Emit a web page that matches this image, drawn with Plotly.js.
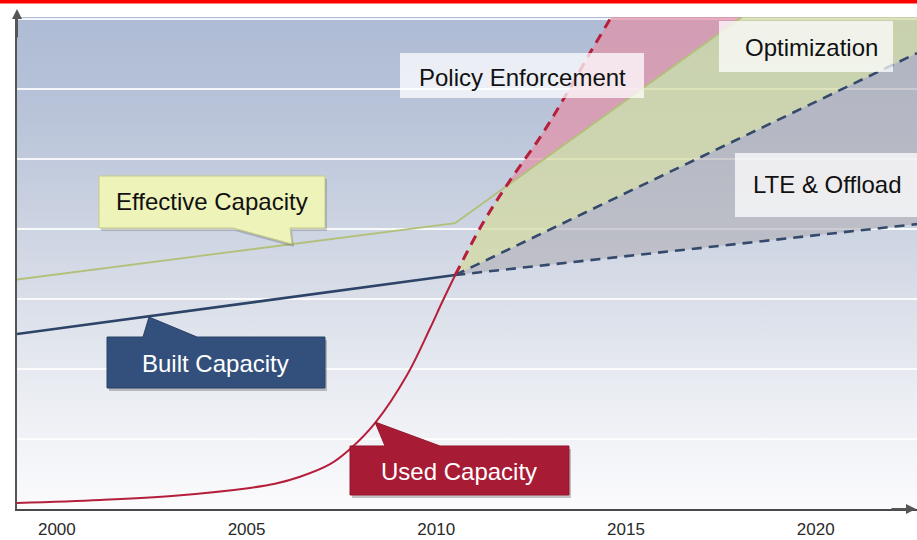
<!DOCTYPE html>
<html><head><meta charset="utf-8">
<script src="https://cdn.plot.ly/plotly-3.0.1.min.js"></script>
<style>html,body{margin:0;padding:0;background:#fff}#chart{width:917px;height:540px}</style>
</head><body><div id="chart"></div>
<script>
// ---- data (x = year, y = capacity, arbitrary units) ----
const usedYears   = [1998.95, 2001.14, 2003.11, 2005.09, 2005.75, 2006.41, 2007.20, 2007.73, 2008.39, 2009.23, 2009.84, 2010.15, 2010.50];
const usedValues  = [0.086, 0.129, 0.190, 0.301, 0.360, 0.460, 0.640, 0.857, 1.229, 1.914, 2.586, 2.950, 3.343];
const demandYears  = [2010.50, 2011.23, 2011.95, 2012.74, 2013.34, 2014.05, 2014.63];
const demandValues = [3.343, 4.086, 4.700, 5.314, 5.843, 6.514, 7.043];
const effectiveYears  = [1998.95, 2010.50, 2018.09];
const effectiveValues = [3.279, 4.086, 7.043];
const builtYears  = [1998.95, 2010.50];
const builtValues = [2.50, 3.343];
const lteHighYears  = [2010.50, 2022.67];
const lteHighValues = [3.343, 6.514];
const lteLowYears   = [2010.50, 2022.67];
const lteLowValues  = [3.343, 4.071];
const tickYears  = [2000, 2005, 2010, 2015, 2020];
const tickLabels = ['2000', '2005', '2010', '2015', '2020'];
const xRange = [1998.95, 2022.67];
const yRange = [0, 7.03];

// ---- helpers ----
function intersect(ax, ay, bx, by) {
  for (let i = 0; i < ax.length - 1; i++) {
    for (let j = 0; j < bx.length - 1; j++) {
      const x1 = ax[i], y1 = ay[i], x2 = ax[i+1], y2 = ay[i+1];
      const x3 = bx[j], y3 = by[j], x4 = bx[j+1], y4 = by[j+1];
      const d = (x1-x2)*(y3-y4) - (y1-y2)*(x3-x4);
      if (Math.abs(d) < 1e-12) continue;
      const t = ((x1-x3)*(y3-y4) - (y1-y3)*(x3-x4)) / d;
      const u = -((x1-x2)*(y1-y3) - (y1-y2)*(x1-x3)) / d;
      if (t > 1e-6 && t <= 1 && u >= 0 && u <= 1) return [x1 + t*(x2-x1), y1 + t*(y2-y1)];
    }
  }
  return null;
}
const I = intersect(demandYears, demandValues, effectiveYears, effectiveValues);
const nE = effectiveYears.length - 1;

// pink: between demand (left) and effective (right) above their crossing
const pinkX = [I[0]], pinkY = [I[1]];
demandYears.forEach((x, k) => { if (x > I[0]) { pinkX.push(x); pinkY.push(demandValues[k]); } });
for (let k = nE; k >= 0; k--) if (effectiveYears[k] > I[0]) { pinkX.push(effectiveYears[k]); pinkY.push(effectiveValues[k]); }

// green: between upper LTE line and min(demand, effective)
const optX = [...lteHighYears], optY = [...lteHighValues];
optX.push(lteHighYears[lteHighYears.length-1]); optY.push(effectiveValues[nE]);
for (let k = nE; k >= 0; k--) if (effectiveYears[k] > I[0]) { optX.push(effectiveYears[k]); optY.push(effectiveValues[k]); }
optX.push(I[0]); optY.push(I[1]);
for (let k = demandYears.length - 1; k >= 0; k--) if (demandYears[k] < I[0]) { optX.push(demandYears[k]); optY.push(demandValues[k]); }

// gray: between the two LTE lines
const lteX = [...lteHighYears, ...lteLowYears.slice().reverse()];
const lteY = [...lteHighValues, ...lteLowValues.slice().reverse()];

const FONT = 'Liberation Sans, Arial, sans-serif';
const traces = [
  {x: lteX, y: lteY, mode: 'none', fill: 'toself', fillcolor: 'rgba(178,176,182,0.62)', type: 'scatter'},
  {x: optX, y: optY, mode: 'none', fill: 'toself', fillcolor: 'rgba(210,218,160,0.72)', type: 'scatter'},
  {x: pinkX, y: pinkY, mode: 'none', fill: 'toself', fillcolor: 'rgba(226,144,166,0.7)', type: 'scatter'},
  {x: effectiveYears, y: effectiveValues, mode: 'lines', line: {color: '#b3c07a', width: 1.8}, type: 'scatter'},
  {x: builtYears, y: builtValues, mode: 'lines', line: {color: '#2d4468', width: 2.6}, type: 'scatter'},
  {x: lteHighYears, y: lteHighValues, mode: 'lines', line: {color: '#34496b', width: 2.6, dash: '10px,7px'}, type: 'scatter'},
  {x: lteLowYears, y: lteLowValues, mode: 'lines', line: {color: '#34496b', width: 2.6, dash: '10px,7px'}, type: 'scatter'},
  {x: usedYears, y: usedValues, mode: 'lines', line: {color: '#b51f3c', width: 2, shape: 'spline', smoothing: 1}, type: 'scatter'},
  {x: demandYears, y: demandValues, mode: 'lines', line: {color: '#b51f3c', width: 3, dash: '10px,7px', shape: 'spline'}, type: 'scatter'}
];

// ---- layout geometry (pixel helpers for decorations) ----
const W = 917, H = 540, ML = 17, MR = 0, MT = 17, MB = 31;
const PW = W - ML - MR, PH = H - MT - MB;
const px = v => (v - ML) / PW;
const py = v => (H - MB - v) / PH;
function path(pts, dx = 0, dy = 0) {
  return 'M ' + pts.map(p => px(p[0] + dx).toFixed(5) + ',' + py(p[1] + dy).toFixed(5)).join(' L ') + ' Z';
}
const calloutEff  = [[99,176],[325,176],[325,228],[290,228],[292,244],[233,228],[99,228]];
const calloutBuilt = [[107,337],[143,337],[149,317],[197,337],[325,337],[325,388],[107,388]];
const calloutUsed = [[350,446],[385,446],[375,422],[440,446],[569,446],[569,495],[350,495]];
const boxPolicy = [[400,53],[644,53],[644,98],[400,98]];
const boxOpt    = [[719,21],[893,21],[893,72],[719,72]];
const boxLte    = [[735,153],[917,153],[917,217],[735,217]];

const shapes = [
  {type: 'rect', xref: 'paper', yref: 'paper', x0: px(0), x1: px(W), y0: py(3.5), y1: py(-2), fillcolor: '#ff0000', line: {width: 0}},
  {type: 'path', xref: 'paper', yref: 'paper', path: path(boxPolicy), fillcolor: 'rgba(255,255,255,0.74)', line: {width: 0}, layer: 'above'},
  {type: 'path', xref: 'paper', yref: 'paper', path: path(boxOpt), fillcolor: 'rgba(255,255,255,0.74)', line: {width: 0}, layer: 'above'},
  {type: 'path', xref: 'paper', yref: 'paper', path: path(boxLte), fillcolor: 'rgba(255,255,255,0.74)', line: {width: 0}, layer: 'above'},
  {type: 'path', xref: 'paper', yref: 'paper', path: path(calloutEff, 2, 3), fillcolor: 'rgba(0,0,0,0.18)', line: {width: 0}, layer: 'above'},
  {type: 'path', xref: 'paper', yref: 'paper', path: path(calloutEff), fillcolor: '#eef3b9', line: {color: '#c2cb86', width: 1}, layer: 'above'},
  {type: 'path', xref: 'paper', yref: 'paper', path: path(calloutBuilt, 2, 3), fillcolor: 'rgba(0,0,0,0.22)', line: {width: 0}, layer: 'above'},
  {type: 'path', xref: 'paper', yref: 'paper', path: path(calloutBuilt), fillcolor: '#33507c', line: {color: '#2a4266', width: 1}, layer: 'above'},
  {type: 'path', xref: 'paper', yref: 'paper', path: path(calloutUsed, 2, 3), fillcolor: 'rgba(0,0,0,0.22)', line: {width: 0}, layer: 'above'},
  {type: 'path', xref: 'paper', yref: 'paper', path: path(calloutUsed), fillcolor: '#a81b35', line: {color: '#94172e', width: 1}, layer: 'above'}
];

const txt = (s, cx, cy, color) => ({text: s, xref: 'paper', yref: 'paper', x: px(cx), y: py(cy),
  xanchor: 'center', yanchor: 'middle', showarrow: false, font: {family: FONT, size: 24, color: color}});
const annotations = [
  txt('Effective Capacity', 212, 202, '#111'),
  txt('Built Capacity', 215, 363, '#ffffff'),
  txt('Used Capacity', 459, 471, '#ffffff'),
  txt('Policy Enforcement', 522, 77, '#111'),
  txt('Optimization', 811, 47, '#111'),
  txt('LTE &amp; Offload', 827, 185, '#111'),
  {text: '', xref: 'paper', yref: 'paper', x: px(17), y: py(9), ax: 0, ay: 30, showarrow: true,
   arrowhead: 2, arrowsize: 1, arrowwidth: 2, arrowcolor: '#555'},
  {text: '', xref: 'paper', yref: 'paper', x: px(920), y: py(509), ax: -30, ay: 0, showarrow: true,
   arrowhead: 2, arrowsize: 1, arrowwidth: 2, arrowcolor: '#555'}
];

const grad = "<svg xmlns='http://www.w3.org/2000/svg' width='10' height='100' preserveAspectRatio='none'>" +
  "<defs><linearGradient id='g' x1='0' y1='0' x2='0' y2='1'>" +
  "<stop offset='0' stop-color='#adbbd4'/><stop offset='0.2' stop-color='#b9c4d9'/>" +
  "<stop offset='0.5' stop-color='#d3d9e5'/><stop offset='0.75' stop-color='#e9ecf2'/>" +
  "<stop offset='1' stop-color='#fbfbfd'/></linearGradient></defs>" +
  "<rect width='10' height='100' fill='url(#g)'/></svg>";

const layout = {
  width: W, height: H,
  margin: {l: ML, r: MR, t: MT, b: MB},
  paper_bgcolor: '#ffffff', plot_bgcolor: 'rgba(0,0,0,0)',
  showlegend: false, hovermode: false,
  font: {family: FONT},
  xaxis: {range: xRange, tickvals: tickYears, ticktext: tickLabels, showgrid: false, zeroline: false,
    showline: true, linecolor: '#4a4a4a', linewidth: 2, ticks: 'outside', ticklen: 4, tickcolor: 'rgba(0,0,0,0)',
    tickfont: {family: FONT, size: 17, color: '#2a2a2a'}, fixedrange: true},
  yaxis: {range: yRange, dtick: 1, tick0: 0, showticklabels: false, showgrid: true, gridcolor: 'rgba(255,255,255,0.85)',
    gridwidth: 1.6, zeroline: false, showline: true, linecolor: '#555', linewidth: 2, fixedrange: true},
  images: [{source: 'data:image/svg+xml;charset=utf-8,' + encodeURIComponent(grad), xref: 'paper', yref: 'paper',
    x: 0, y: 1, sizex: 1, sizey: 1, sizing: 'stretch', xanchor: 'left', yanchor: 'top', layer: 'below'}],
  shapes: shapes,
  annotations: annotations
};

Plotly.newPlot('chart', traces, layout, {staticPlot: true, displayModeBar: false});
</script></body></html>
